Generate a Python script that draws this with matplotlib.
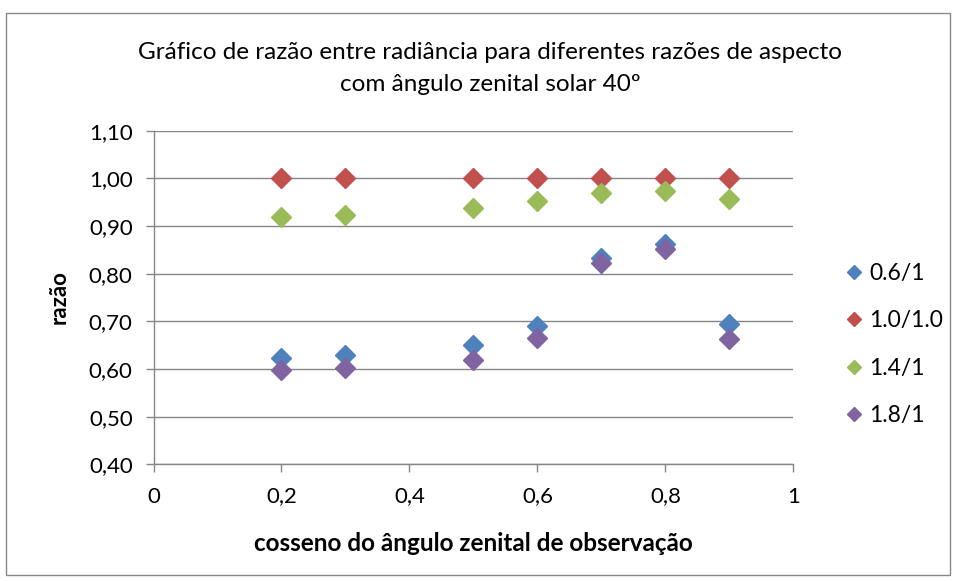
import matplotlib
matplotlib.use("Agg")
import matplotlib.pyplot as plt
from matplotlib.patches import Rectangle
from matplotlib.ticker import FuncFormatter, MultipleLocator

# cosine of observation zenith angle
cos_obs = [0.2, 0.3, 0.5, 0.6, 0.7, 0.8, 0.9]

# radiance ratios for each aspect ratio
r_06 = [0.623, 0.630, 0.651, 0.690, 0.833, 0.862, 0.694]
r_10 = [1.000, 1.000, 1.000, 1.000, 1.000, 1.000, 1.000]
r_14 = [0.920, 0.923, 0.937, 0.953, 0.969, 0.974, 0.957]
r_18 = [0.597, 0.603, 0.619, 0.665, 0.823, 0.852, 0.662]

series_names = ["0.6/1", "1.0/1.0", "1.4/1", "1.8/1"]
colors = ["#4F81BD", "#C0504D", "#9BBB59", "#8064A2"]

plt.rcParams["font.family"] = ["Lato", "DejaVu Sans"]

fig = plt.figure(figsize=(9.57, 5.81), dpi=100)
ax = fig.add_axes([0.1604, 0.2008, 0.829 - 0.1604, 0.775 - 0.2008])

for vals, name, c in zip([r_06, r_10, r_14, r_18], series_names, colors):
    ax.plot(cos_obs, vals, "D", color=c, markersize=10, label=name, zorder=3)

ax.set_xlim(0, 1)
ax.set_ylim(0.40, 1.10)
ax.xaxis.set_major_locator(MultipleLocator(0.2))
ax.yaxis.set_major_locator(MultipleLocator(0.1))
ax.xaxis.set_major_formatter(FuncFormatter(
    lambda v, p: "0" if abs(v) < 1e-9 else ("1" if abs(v - 1) < 1e-9 else ("%.1f" % v).replace(".", ","))))
ax.yaxis.set_major_formatter(FuncFormatter(lambda v, p: ("%.2f" % v).replace(".", ",")))

gray = "#868686"
ax.grid(axis="y", color=gray, linewidth=1.0)
ax.set_axisbelow(True)
for s in ["top", "right"]:
    ax.spines[s].set_visible(False)
for s in ["left", "bottom"]:
    ax.spines[s].set_color(gray)
    ax.spines[s].set_linewidth(1.0)
ax.tick_params(axis="both", colors=gray, length=6, width=1.0, labelsize=16,
               labelcolor="black")
ax.tick_params(axis="y", pad=9)
ax.tick_params(axis="x", pad=10)

ax.set_xlabel("cosseno do ângulo zenital de observação", fontsize=17.5,
              fontweight="bold", labelpad=18)
ax.set_ylabel("razão", fontsize=16, fontweight="bold", labelpad=14)

fig.text(0.512, 0.91, "Gráfico de razão entre radiância para diferentes razões de aspecto",
         ha="center", va="center", fontsize=17.5)
fig.text(0.512, 0.855, "com ângulo zenital solar 40º", ha="center", va="center",
         fontsize=17.5)

ax.legend(loc="upper left", bbox_to_anchor=(1.045, 0.665), frameon=False,
          fontsize=16.5, handletextpad=0.15, labelspacing=1.15, handlelength=1.0,
          markerscale=0.75)

fig.patches.append(Rectangle((0.006, 0.01), 0.987, 0.968, transform=fig.transFigure,
                             fill=False, edgecolor="#888888", linewidth=1.0))

fig.savefig("out.png", dpi=100)
